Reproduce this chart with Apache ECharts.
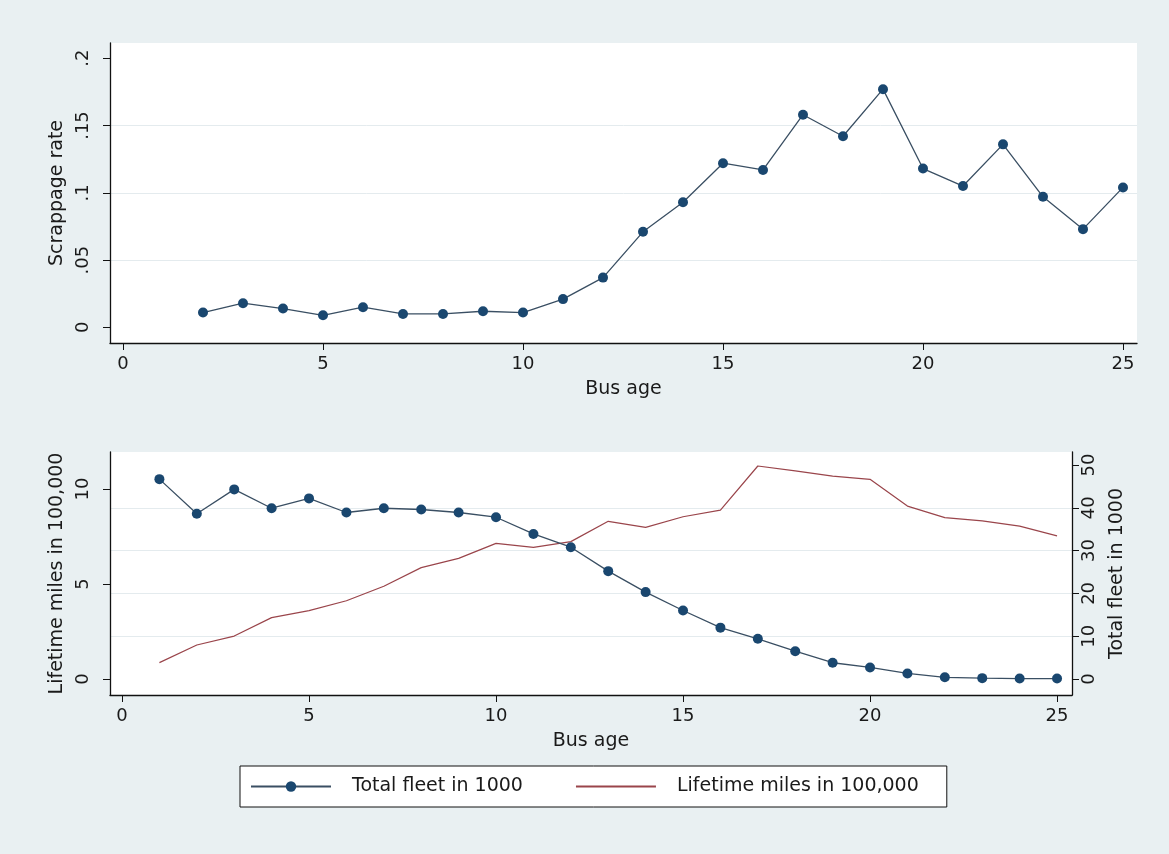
<!DOCTYPE html>
<html>
<head>
<meta charset="utf-8">
<script src="https://cdn.jsdelivr.net/npm/echarts@6/dist/echarts.min.js"></script>
<style>
  html, body { margin: 0; padding: 0; background: #e9f0f2; }
  #chart { width: 1169px; height: 854px; }
</style>
</head>
<body>
<div id="chart"></div>
<script>
// bus age 1..25 (bottom panel), scrappage starts at age 2
const busAge = [1, 2, 3, 4, 5, 6, 7, 8, 9, 10, 11, 12, 13, 14, 15, 16, 17, 18, 19, 20, 21, 22, 23, 24, 25];
const scrapAge = [2, 3, 4, 5, 6, 7, 8, 9, 10, 11, 12, 13, 14, 15, 16, 17, 18, 19, 20, 21, 22, 23, 24, 25];
const scrappageRate = [0.011, 0.018, 0.014, 0.009, 0.015, 0.010, 0.010, 0.012, 0.011, 0.021, 0.037, 0.071,
  0.093, 0.122, 0.117, 0.158, 0.142, 0.177, 0.118, 0.105, 0.136, 0.097, 0.073, 0.104];
const totalFleet = [46.7, 38.6, 44.3, 39.9, 42.2, 38.9, 39.9, 39.6, 38.9, 37.8, 33.9, 30.8, 25.2,
  20.3, 16.0, 12.0, 9.4, 6.5, 3.8, 2.7, 1.3, 0.4, 0.2, 0.1, 0.1];
const lifetimeMiles = [0.86, 1.79, 2.26, 3.23, 3.6, 4.12, 4.88, 5.86, 6.35, 7.14, 6.93, 7.23, 8.3,
  7.98, 8.54, 8.89, 11.21, 10.95, 10.68, 10.51, 9.1, 8.49, 8.32, 8.05, 7.53];

const ageTicks = [0, 5, 10, 15, 20, 25];
const scrapTicks = [0, 0.05, 0.1, 0.15, 0.2];
const milesTicks = [0, 5, 10];
const fleetTicks = [0, 10, 20, 30, 40, 50];

const font = 'DejaVu Sans';
const ink = '#1a1a1a';
const navy = '#1a476f';
const navyLine = '#3a4f63';
const maroon = '#9a454b';
const gridColor = '#e4ebee';

const zip = (xs, ys) => xs.map((x, i) => [x, ys[i]]);
const stataNum = v => (v === 0 ? '0' : String(+v.toFixed(2)).replace(/^0\./, '.'));

const chart = echarts.init(document.getElementById('chart'));

const xAxisBase = (gridIndex, min, max) => ({
  type: 'value',
  gridIndex,
  min,
  max,
  minInterval: 5,
  maxInterval: 5,
  name: 'Bus age',
  nameLocation: 'middle',
  nameGap: 37,
  nameTextStyle: { fontFamily: font, fontSize: 19, color: ink },
  axisLine: { show: true, onZero: false, lineStyle: { color: '#111', width: 1.3 } },
  axisTick: { show: true, length: 7, customValues: ageTicks, lineStyle: { color: '#111' } },
  axisLabel: { customValues: ageTicks, margin: 12, fontFamily: font, fontSize: 18, color: ink },
  splitLine: { show: false },
});

const option = {
  animation: false,
  backgroundColor: '#e9f0f2',
  grid: [
    { left: 110, top: 43, width: 1027, height: 300, show: true, backgroundColor: '#fff', borderWidth: 0 },
    { left: 110, top: 452, width: 962, height: 243, show: true, backgroundColor: '#fff', borderWidth: 0 },
  ],
  legend: {
    left: 240,
    top: 766,
    data: [
      { name: 'Total fleet in 1000' },
      // plain line only, no marker in the key
      { name: 'Lifetime miles in 100,000', itemStyle: { color: 'rgba(0,0,0,0)', borderWidth: 0 } },
    ],
    backgroundColor: '#fff',
    borderColor: '#111',
    borderWidth: 1,
    borderRadius: 0,
    padding: [11, 28, 11, 10],
    itemGap: 52,
    itemWidth: 80,
    itemHeight: 13,
    textStyle: { fontFamily: font, fontSize: 19, color: ink, padding: [0, 0, 0, 16] },
  },
  xAxis: [
    xAxisBase(0, -0.325, 25.35),
    xAxisBase(1, -0.321, 25.4),
  ],
  yAxis: [
    {
      type: 'value',
      gridIndex: 0,
      min: -0.0116,
      max: 0.2113,
      minInterval: 0.05,
      maxInterval: 0.05,
      name: 'Scrappage rate',
      nameLocation: 'middle',
      nameRotate: 90,
      nameGap: 42,
      nameTextStyle: { fontFamily: font, fontSize: 19, color: ink },
      axisLine: { show: true, onZero: false, lineStyle: { color: '#111', width: 1.3 } },
      axisTick: { show: true, length: 7, customValues: scrapTicks, lineStyle: { color: '#111' } },
      axisLabel: { customValues: scrapTicks, rotate: 90, margin: 18, fontFamily: font, fontSize: 18, color: ink, formatter: stataNum },
      splitLine: { show: true, showMinLine: false, showMaxLine: false, lineStyle: { color: gridColor, width: 1 } },
    },
    {
      type: 'value',
      gridIndex: 1,
      position: 'left',
      min: -0.842,
      max: 11.947,
      minInterval: 5,
      maxInterval: 5,
      name: 'Lifetime miles in 100,000',
      nameLocation: 'middle',
      nameRotate: 90,
      nameGap: 42,
      nameTextStyle: { fontFamily: font, fontSize: 19, color: ink },
      axisLine: { show: true, onZero: false, lineStyle: { color: '#111', width: 1.3 } },
      axisTick: { show: true, length: 7, customValues: milesTicks, lineStyle: { color: '#111' } },
      axisLabel: { customValues: milesTicks, rotate: 90, margin: 18, fontFamily: font, fontSize: 18, color: ink },
      splitLine: { show: false },
    },
    {
      type: 'value',
      gridIndex: 1,
      position: 'right',
      min: -3.74,
      max: 53.04,
      minInterval: 10,
      maxInterval: 10,
      name: 'Total fleet in 1000',
      nameLocation: 'middle',
      nameRotate: 90,
      nameGap: 36,
      nameTextStyle: { fontFamily: font, fontSize: 19, color: ink },
      axisLine: { show: true, onZero: false, lineStyle: { color: '#111', width: 1.3 } },
      axisTick: { show: true, length: 7, customValues: fleetTicks, lineStyle: { color: '#111' } },
      axisLabel: { customValues: fleetTicks, rotate: 90, margin: 8, fontFamily: font, fontSize: 18, color: ink },
      splitLine: { show: true, showMinLine: false, showMaxLine: false, lineStyle: { color: gridColor, width: 1 } },
    },
  ],
  series: [
    {
      name: 'Scrappage rate',
      type: 'line',
      xAxisIndex: 0,
      yAxisIndex: 0,
      data: zip(scrapAge, scrappageRate),
      symbol: 'circle',
      symbolSize: 10,
      itemStyle: { color: navy },
      lineStyle: { color: navyLine, width: 1.3 },
    },
    {
      name: 'Lifetime miles in 100,000',
      type: 'line',
      xAxisIndex: 1,
      yAxisIndex: 1,
      data: zip(busAge, lifetimeMiles),
      symbol: 'none',
      itemStyle: { color: maroon },
      lineStyle: { color: maroon, width: 1.2 },
    },
    {
      name: 'Total fleet in 1000',
      type: 'line',
      xAxisIndex: 1,
      yAxisIndex: 2,
      data: zip(busAge, totalFleet),
      symbol: 'circle',
      symbolSize: 10,
      itemStyle: { color: navy },
      lineStyle: { color: navyLine, width: 1.3 },
    },
  ],
};

chart.setOption(option);
</script>
</body>
</html>
